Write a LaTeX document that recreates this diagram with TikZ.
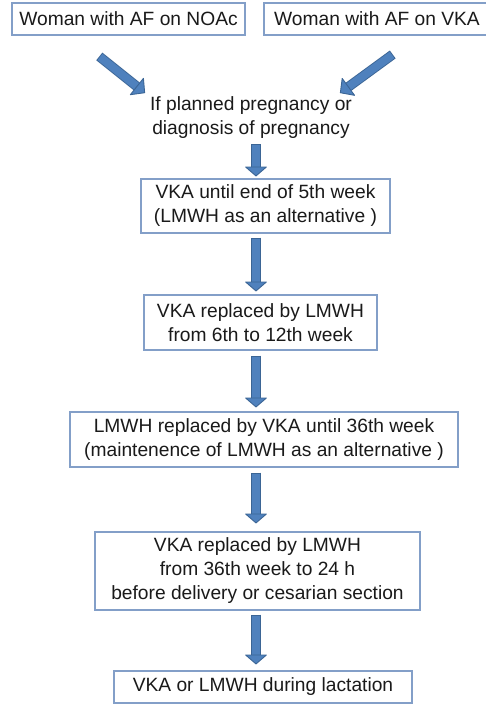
\documentclass[tikz,border=0pt]{standalone}
\usepackage{fontspec}
\setmainfont{Liberation Sans}
\usetikzlibrary{arrows.meta}
\definecolor{boxline}{HTML}{839FC8}
\definecolor{arrfill}{HTML}{4F81BD}
\definecolor{arrdark}{HTML}{3B6595}
\definecolor{txt}{HTML}{1A1A1A}
\tikzset{
  fbox/.style={draw=boxline, line width=1.2pt, fill=white, align=center, inner sep=0pt,
    text=txt, font=\fontsize{19.2}{24}\selectfont},
  plain/.style={align=center, inner sep=0pt, text=txt, font=\fontsize{19.2}{24}\selectfont},
  barrow/.style={line width=8.6pt, arrfill,
    -{Triangle[length=10pt, width=23pt, fill=arrfill, color=arrdark, line width=0.9pt, round]},
    preaction={draw=arrdark, line width=10.4pt, -, shorten >=9pt, shorten <=-0.9pt}},
  darrow/.style={line width=8pt, arrfill,
    -{Triangle[length=11pt, width=23pt, fill=arrfill, color=arrdark, line width=0.9pt, round]},
    preaction={draw=arrdark, line width=9.8pt, -, shorten >=10pt, shorten <=-0.9pt}}
}
\begin{document}
\begin{tikzpicture}[x=1pt, y=-1pt]
\useasboundingbox[fill=white] (0,0) rectangle (486,705);
\node[fbox, minimum width=233pt, minimum height=32pt] (b1) at (128.5,19) {Woman with AF on NOAc};
\node[fbox, minimum width=226pt, minimum height=32pt] (b2) at (377,19) {Woman with AF on VKA};
\node[plain] (q) at (251,118) {If planned pregnancy or\\diagnosis of pregnancy};
\node[fbox, minimum width=249pt, minimum height=54pt] (b3) at (265.5,206) {VKA until end of 5th week\\(LMWH as an alternative )};
\node[fbox, minimum width=233pt, minimum height=55pt] (b4) at (260.5,322.5) {VKA replaced by LMWH\\from 6th to 12th week};
\node[fbox, minimum width=388pt, minimum height=55pt] (b5) at (264,439.5) {LMWH replaced by VKA until 36th week\\(maintenence of LMWH as an alternative )};
\node[fbox, minimum width=325pt, minimum height=78pt] (b6) at (257.5,571) {VKA replaced by LMWH\\from 36th week to 24 h\\before delivery or cesarian section};
\node[fbox, minimum width=298pt, minimum height=32pt] (b7) at (263,687) {VKA or LMWH during lactation};
\coordinate (ax) at (256,0);
\coordinate (l1) at (100,57);
\coordinate (l2) at (145,93);
\coordinate (r1) at (392,55);
\coordinate (r2) at (340,93);
\coordinate (qa) at (256,145);
\draw[darrow] (l1) -- (l2);
\draw[darrow] (r1) -- (r2);
\draw[barrow] (qa) -- ([yshift=2pt]b3.north -| ax);
\draw[barrow] ([yshift=-5pt]b3.south -| ax) -- ([yshift=3pt]b4.north -| ax);
\draw[barrow] ([yshift=-6pt]b4.south -| ax) -- ([yshift=4pt]b5.north -| ax);
\draw[barrow] ([yshift=-6pt]b5.south -| ax) -- ([yshift=8pt]b6.north -| ax);
\draw[barrow] ([yshift=-5pt]b6.south -| ax) -- ([yshift=6pt]b7.north -| ax);
\end{tikzpicture}
\end{document}
